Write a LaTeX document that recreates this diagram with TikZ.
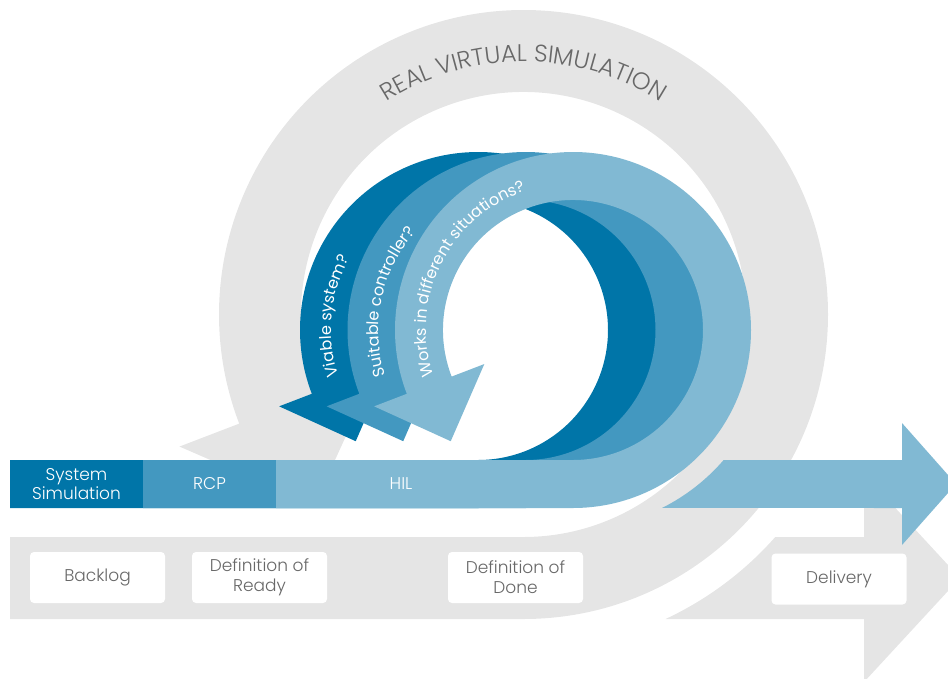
\documentclass[tikz,border=0pt]{standalone}
\usepackage{fontspec}
\setmainfont{Poppins}[UprightFont=* Light]
\newfontfamily\ringfam{Poppins}
\usetikzlibrary{calc,decorations.text}

\definecolor{dkblue}{HTML}{0075A8}
\definecolor{mdblue}{HTML}{4398C0}
\definecolor{ltblue}{HTML}{81B9D3}
\definecolor{loopgrey}{HTML}{E5E5E5}
\definecolor{txtgrey}{HTML}{686868}

\newcommand{\ringfont}{\ringfam\fontsize{16}{16}\selectfont\color{white}}
\newcommand{\titlefont}{\fontsize{24}{24}\selectfont\color{txtgrey}}

\tikzset{
  barlabel/.style={text=white,font=\fontsize{17}{19}\selectfont,align=center},
  stage/.style={fill=white,rounded corners=4pt,minimum width=135pt,minimum height=51pt,
    inner sep=0pt,text=txtgrey,font=\fontsize{17}{20}\selectfont,align=center},
}

\begin{document}
\begin{tikzpicture}[x=1pt,y=1pt]
    \useasboundingbox (0,0) rectangle (948,-678);
    \clip (0,0) rectangle (948,-678);
    \coordinate (rvs) at (523.5,-314.5);
    \coordinate (sim) at (478,-330);
    \coordinate (rcp) at (525.5,-330);
    \coordinate (hil) at (573,-330);
    % big grey loop and the grey arrow to delivery
    \fill[loopgrey](10,-619)--($(rvs)+(-90:304.5)$)arc[start angle=-90,end angle=201,radius=304.5]
        --($(rvs)+(201:368.5)$)--($(rvs)+(201:263.5)+(-69:103)$)--($(rvs)+(201:158.5)$)
        --($(rvs)+(201:222.5)$)arc[start angle=201,end angle=-90,radius=222.5]--(10,-537)--cycle;
    \fill[loopgrey]($(rvs)+(-65:336)$)arc[start angle=-65,end angle=-41.5,radius=336]
        --(864,-537)--(864,-474)--(960,-578)--(864,-682)--(864,-619)--cycle;
    \path[decorate,decoration={text along path,text align=center,
        text={|\titlefont|REAL VIRTUAL SIMULATION}}]
        ($(rvs)+(136:253)$)arc[start angle=136,end angle=44,radius=253];
    % the three blue loops, drawn back to front
    \foreach \cen/\xs/\col in {sim/10/dkblue,rcp/143/mdblue,hil/276/ltblue}{
        \fill[\col](\xs,-508)--($(\cen)+(-90:178)$)arc[start angle=-90,end angle=201,radius=178]
            --($(\cen)+(201:213)$)--($(\cen)+(201:154)+(-69:60)$)--($(\cen)+(201:95)$)
            --($(\cen)+(201:130)$)arc[start angle=201,end angle=-90,radius=130]--(\xs,-460)--cycle;
    }
    \fill[ltblue]($(hil)+(-63.4:199)$)arc[start angle=-63.4,end angle=-40.8,radius=199]
        --(902,-460)--(902,-423)--(956,-484)--(902,-545)--(902,-508)--cycle;
    \path[decorate,decoration={text along path,text={|\ringfont|Viable system?}}]
        ($(sim)+(198:147)$)arc[start angle=198,end angle=90,radius=147];
    \path[decorate,decoration={text along path,text={|\ringfont|Suitable controller?}}]
        ($(rcp)+(198:147)$)arc[start angle=198,end angle=90,radius=147];
    \path[decorate,decoration={text along path,text={|\ringfont|Works in different situations?}}]
        ($(hil)+(198:147)$)arc[start angle=198,end angle=70,radius=147];
    \node[barlabel](syssim) at (76.5,-484){System\\Simulation};
    \node[barlabel](rcplbl) at (209.5,-484){RCP};
    \node[barlabel](hillbl) at (401,-484){HIL};
    \node[stage](backlog) at (97.5,-577.5){Backlog};
    \node[stage](ready) at (259.5,-577.5){Definition of\\Ready};
    \node[stage](done) at (515.5,-577.5){Definition of\\Done};
    \node[stage](delivery) at (839,-579){Delivery};
\end{tikzpicture}
\end{document}
